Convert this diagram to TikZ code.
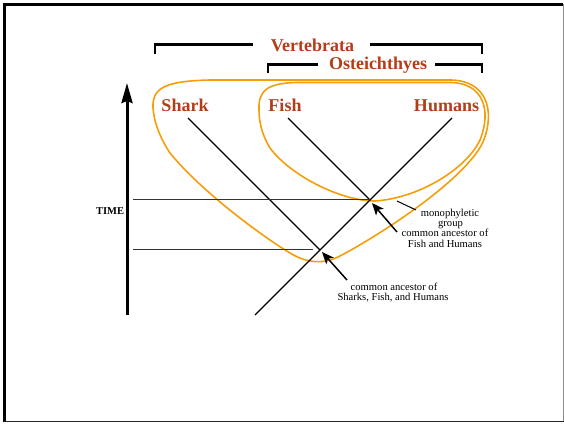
\documentclass[tikz,border=0pt]{standalone}
\usepackage{fontspec}
\setmainfont{Liberation Serif}
\usetikzlibrary{arrows.meta}
\definecolor{labred}{RGB}{180,60,25}
\definecolor{loopor}{RGB}{245,158,10}
\begin{document}
\begin{tikzpicture}[x=1pt,y=-1pt,
  taxon/.style={font=\fontsize{18}{18}\selectfont\bfseries, text=labred, inner sep=0pt, anchor=base},
  note/.style={font=\fontsize{10.6}{10.6}\selectfont, inner sep=0pt, anchor=base},
  bracket/.style={line width=2.5pt, black},
  lineage/.style={line width=1.3pt, black},
  timeline/.style={line width=0.9pt, black!80},
  clade/.style={draw=loopor, line width=1.6pt},
  pointer/.style={line width=1.5pt, -{Stealth[length=12pt,width=10pt,inset=3pt]}},
  timearrow/.style={line width=3pt, -{Stealth[length=20pt,width=11pt,inset=2pt]}}]
\useasboundingbox (0,0) rectangle (564,423);
% frame
\draw[line width=3pt,black] (2.8,4.3) -- (563,4.3);
\draw[line width=3pt,black] (4.3,2.8) -- (4.3,422);
\draw[line width=1pt,black!45] (563,4) -- (563,422);
\draw[line width=1.5pt,black!85] (4,421.5) -- (563.5,421.5);

% clade loops
\draw[clade] (153,108) .. controls (152,88) and (165,81) .. (210,80)
  -- (450,80)
  .. controls (486,80) and (496,110) .. (483,142)
  .. controls (465,180) and (380,235) .. (340,256)
  .. controls (325,264) and (308,264) .. (290,253)
  .. controls (260,235) and (200,190) .. (170,153)
  .. controls (160,138) and (154,122) .. (153,108) -- cycle;
\draw[clade] (259,110) .. controls (258,90) and (268,82.5) .. (300,82.5)
  -- (450,82.5)
  .. controls (483,82.5) and (492,110) .. (480,140)
  .. controls (467,168) and (420,198) .. (375,201)
  .. controls (340,201) and (290,175) .. (270,148)
  .. controls (262,135) and (259,122) .. (259,110) -- cycle;

% brackets
\draw[bracket] (155,54) -- (155,44.7) -- (253,44.7);
\draw[bracket] (370,44.7) -- (482,44.7) -- (482,54);
\draw[bracket] (268,73.3) -- (268,64.5) -- (318,64.5);
\draw[bracket] (435,64.5) -- (482,64.5) -- (482,73.3);
\node[taxon] (vert) at (312.5,51) {Vertebrata};
\node[taxon] (oste) at (378,69) {Osteichthyes};

% taxa
\node[taxon] (shark) at (185,111.7) {Shark};
\node[taxon] (fish) at (285,111.7) {Fish};
\node[taxon] (hum) at (446.5,111.7) {Humans};

% time axis
\coordinate (timeBot) at (127,315);
\coordinate (timeTop) at (127,83);
\draw[timearrow] (timeBot) -- (timeTop);
\node[font=\fontsize{10.5}{10.5}\selectfont\bfseries, inner sep=0pt] (time) at (110,211.5) {TIME};

% lineages
\coordinate (sharkTop) at (188,118);
\coordinate (fishTop) at (288,118);
\coordinate (humTop) at (452,118);
\coordinate (anc1) at (370,200);
\coordinate (anc2) at (320,250);
\coordinate (humBot) at (255,315);
\draw[lineage] (sharkTop) -- (anc2);
\draw[lineage] (fishTop) -- (anc1);
\draw[lineage] (humTop) -- (humBot);

% time lines
\coordinate (t1L) at (133,199);
\coordinate (t1R) at (370,199);
\coordinate (t2L) at (133,249);
\coordinate (t2R) at (313,249);
\draw[timeline] (t1L) -- (t1R);
\draw[timeline] (t2L) -- (t2R);

% pointers
\coordinate (p1s) at (397,232);
\coordinate (p1t) at (372,203);
\coordinate (p2s) at (347,280);
\coordinate (p2t) at (322,252);
\draw[pointer] (p1s) -- (p1t);
\draw[pointer] (p2s) -- (p2t);
\coordinate (m1) at (397,201);
\coordinate (m2) at (416,210);
\draw[line width=1pt] (m1) -- (m2);

% notes
\node[note] (mono) at (450,216) {monophyletic};
\node[note] (grp) at (450.5,226.7) {group};
\node[note] (ca1) at (445,236.7) {common ancestor of};
\node[note] (fh) at (445,247.5) {Fish and Humans};
\node[note] (ca2) at (394,290) {common ancestor of};
\node[note] (sfh) at (393,300) {Sharks, Fish, and Humans};
\end{tikzpicture}
\end{document}
